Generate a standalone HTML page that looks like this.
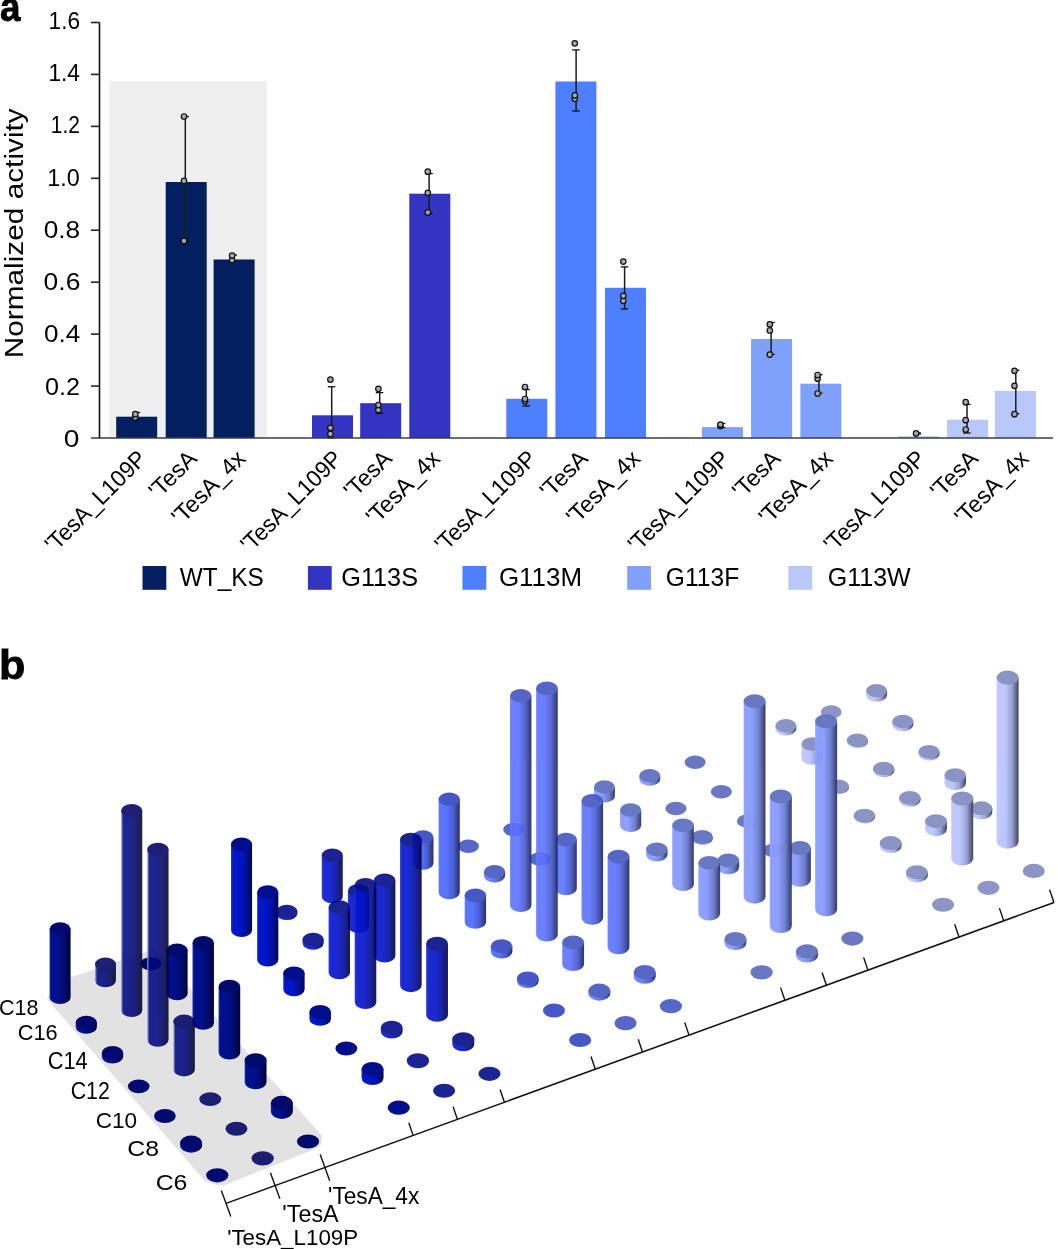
<!DOCTYPE html>
<html><head><meta charset="utf-8"><style>
html,body{margin:0;padding:0;background:#fff;}
svg{display:block;font-family:"Liberation Sans", sans-serif;}
svg{will-change:transform;}
</style></head><body>
<svg width="1058" height="1249" viewBox="0 0 1058 1249">
<defs><linearGradient id="g00" x1="0" x2="1" y1="0" y2="0"><stop offset="0" stop-color="#1a2898"/><stop offset="0.1" stop-color="#00108e"/><stop offset="0.38" stop-color="#00108e"/><stop offset="0.7" stop-color="#000b72"/><stop offset="1" stop-color="#000530"/></linearGradient><linearGradient id="g01" x1="0" x2="1" y1="0" y2="0"><stop offset="0" stop-color="#aeb3dc"/><stop offset="0.1" stop-color="#000881"/><stop offset="0.38" stop-color="#000881"/><stop offset="0.7" stop-color="#000466"/><stop offset="1" stop-color="#000026"/></linearGradient><linearGradient id="g02" x1="0" x2="1" y1="0" y2="0"><stop offset="0" stop-color="#1a2898"/><stop offset="0.1" stop-color="#00108c"/><stop offset="0.38" stop-color="#00108c"/><stop offset="0.7" stop-color="#000b72"/><stop offset="1" stop-color="#000530"/></linearGradient><linearGradient id="g10" x1="0" x2="1" y1="0" y2="0"><stop offset="0" stop-color="#2030d0"/><stop offset="0.1" stop-color="#0016c8"/><stop offset="0.38" stop-color="#0016c8"/><stop offset="0.7" stop-color="#0010a0"/><stop offset="1" stop-color="#000850"/></linearGradient><linearGradient id="g11" x1="0" x2="1" y1="0" y2="0"><stop offset="0" stop-color="#192bd4"/><stop offset="0.1" stop-color="#0312cf"/><stop offset="0.38" stop-color="#0312cf"/><stop offset="0.7" stop-color="#010c9e"/><stop offset="1" stop-color="#00003d"/></linearGradient><linearGradient id="g12" x1="0" x2="1" y1="0" y2="0"><stop offset="0" stop-color="#192bd4"/><stop offset="0.1" stop-color="#0312cf"/><stop offset="0.38" stop-color="#0312cf"/><stop offset="0.7" stop-color="#010c9e"/><stop offset="1" stop-color="#00003d"/></linearGradient><linearGradient id="g20" x1="0" x2="1" y1="0" y2="0"><stop offset="0" stop-color="#5972f7"/><stop offset="0.1" stop-color="#4865ff"/><stop offset="0.38" stop-color="#4865ff"/><stop offset="0.7" stop-color="#364ccb"/><stop offset="1" stop-color="#101960"/></linearGradient><linearGradient id="g21" x1="0" x2="1" y1="0" y2="0"><stop offset="0" stop-color="#607bf7"/><stop offset="0.1" stop-color="#5b72ff"/><stop offset="0.38" stop-color="#5b72ff"/><stop offset="0.7" stop-color="#4557cb"/><stop offset="1" stop-color="#172260"/></linearGradient><linearGradient id="g22" x1="0" x2="1" y1="0" y2="0"><stop offset="0" stop-color="#607bf7"/><stop offset="0.1" stop-color="#5b72ff"/><stop offset="0.38" stop-color="#5b72ff"/><stop offset="0.7" stop-color="#4557cb"/><stop offset="1" stop-color="#172260"/></linearGradient><linearGradient id="g30" x1="0" x2="1" y1="0" y2="0"><stop offset="0" stop-color="#95a5f8"/><stop offset="0.1" stop-color="#8b9dff"/><stop offset="0.38" stop-color="#8b9dff"/><stop offset="0.7" stop-color="#6c7ccf"/><stop offset="1" stop-color="#2e3665"/></linearGradient><linearGradient id="g31" x1="0" x2="1" y1="0" y2="0"><stop offset="0" stop-color="#95a5f8"/><stop offset="0.1" stop-color="#8b9dff"/><stop offset="0.38" stop-color="#8b9dff"/><stop offset="0.7" stop-color="#6c7ccf"/><stop offset="1" stop-color="#2e3665"/></linearGradient><linearGradient id="g32" x1="0" x2="1" y1="0" y2="0"><stop offset="0" stop-color="#95a5f8"/><stop offset="0.1" stop-color="#8b9dff"/><stop offset="0.38" stop-color="#8b9dff"/><stop offset="0.7" stop-color="#6c7ccf"/><stop offset="1" stop-color="#2e3665"/></linearGradient><linearGradient id="g40" x1="0" x2="1" y1="0" y2="0"><stop offset="0" stop-color="#c6ccf0"/><stop offset="0.1" stop-color="#bec6ff"/><stop offset="0.38" stop-color="#bec6ff"/><stop offset="0.7" stop-color="#979fd7"/><stop offset="1" stop-color="#3a405b"/></linearGradient><linearGradient id="g41" x1="0" x2="1" y1="0" y2="0"><stop offset="0" stop-color="#c6ccf0"/><stop offset="0.1" stop-color="#bec6ff"/><stop offset="0.38" stop-color="#bec6ff"/><stop offset="0.7" stop-color="#979fd7"/><stop offset="1" stop-color="#3a405b"/></linearGradient><linearGradient id="g42" x1="0" x2="1" y1="0" y2="0"><stop offset="0" stop-color="#c6ccf0"/><stop offset="0.1" stop-color="#bec6ff"/><stop offset="0.38" stop-color="#bec6ff"/><stop offset="0.7" stop-color="#979fd7"/><stop offset="1" stop-color="#3a405b"/></linearGradient></defs>
<rect width="1058" height="1249" fill="#fff"/>
<rect x="109.4" y="80.8" width="157.6" height="357.2" fill="#efefef"/>
<rect x="116.2" y="416.7" width="41.0" height="21.3" fill="#031f5f"/>
<rect x="165.7" y="182.0" width="41.0" height="256.0" fill="#031f5f"/>
<rect x="213.6" y="259.5" width="41.0" height="178.5" fill="#031f5f"/>
<rect x="312.0" y="415.3" width="41.0" height="22.7" fill="#3434c2"/>
<rect x="360.2" y="403.2" width="41.0" height="34.8" fill="#3434c2"/>
<rect x="409.3" y="193.7" width="41.0" height="244.3" fill="#3434c2"/>
<rect x="506.3" y="398.8" width="41.0" height="39.2" fill="#4d7fff"/>
<rect x="555.4" y="81.5" width="41.0" height="356.5" fill="#4d7fff"/>
<rect x="605.0" y="287.8" width="41.0" height="150.2" fill="#4d7fff"/>
<rect x="702.0" y="427.1" width="41.0" height="10.9" fill="#7fa1fc"/>
<rect x="751.1" y="339.0" width="41.0" height="99.0" fill="#7fa1fc"/>
<rect x="800.4" y="383.7" width="41.0" height="54.3" fill="#7fa1fc"/>
<rect x="898.0" y="436.2" width="41.0" height="1.8" fill="#b9c8fb"/>
<rect x="947.1" y="419.7" width="41.0" height="18.3" fill="#b9c8fb"/>
<rect x="994.9" y="391.0" width="41.0" height="47.0" fill="#b9c8fb"/>
<line x1="136.6" y1="412.5" x2="136.6" y2="419.5" stroke="#1c1c1c" stroke-width="1.5"/>
<line x1="132.7" y1="412.5" x2="140.2" y2="412.5" stroke="#111" stroke-width="1.3"/>
<line x1="132.7" y1="419.5" x2="140.2" y2="419.5" stroke="#111" stroke-width="1.3"/>
<circle cx="135.3" cy="417.6" r="2.75" fill="#a8a8a8" stroke="#111" stroke-width="1.2"/>
<circle cx="135.3" cy="414.2" r="2.75" fill="#a8a8a8" stroke="#111" stroke-width="1.2"/>
<line x1="185.3" y1="116.5" x2="185.3" y2="240.9" stroke="#1c1c1c" stroke-width="1.5"/>
<line x1="181.4" y1="116.5" x2="188.9" y2="116.5" stroke="#111" stroke-width="1.3"/>
<line x1="181.4" y1="240.9" x2="188.9" y2="240.9" stroke="#111" stroke-width="1.3"/>
<circle cx="184.0" cy="240.9" r="2.75" fill="#a8a8a8" stroke="#111" stroke-width="1.2"/>
<circle cx="184.0" cy="180.9" r="2.75" fill="#a8a8a8" stroke="#111" stroke-width="1.2"/>
<circle cx="184.0" cy="116.5" r="2.75" fill="#a8a8a8" stroke="#111" stroke-width="1.2"/>
<line x1="233.4" y1="255.0" x2="233.4" y2="261.0" stroke="#1c1c1c" stroke-width="1.5"/>
<line x1="229.5" y1="255.0" x2="237.0" y2="255.0" stroke="#111" stroke-width="1.3"/>
<line x1="229.5" y1="261.0" x2="237.0" y2="261.0" stroke="#111" stroke-width="1.3"/>
<circle cx="232.1" cy="260.1" r="2.75" fill="#a8a8a8" stroke="#111" stroke-width="1.2"/>
<circle cx="232.1" cy="255.6" r="2.75" fill="#a8a8a8" stroke="#111" stroke-width="1.2"/>
<line x1="331.7" y1="386.7" x2="331.7" y2="438.0" stroke="#1c1c1c" stroke-width="1.5"/>
<line x1="327.8" y1="386.7" x2="335.3" y2="386.7" stroke="#111" stroke-width="1.3"/>
<line x1="327.8" y1="438.0" x2="335.3" y2="438.0" stroke="#111" stroke-width="1.3"/>
<circle cx="330.4" cy="434.0" r="2.75" fill="#a8a8a8" stroke="#111" stroke-width="1.2"/>
<circle cx="330.4" cy="427.8" r="2.75" fill="#a8a8a8" stroke="#111" stroke-width="1.2"/>
<circle cx="330.4" cy="379.6" r="2.75" fill="#a8a8a8" stroke="#111" stroke-width="1.2"/>
<line x1="379.7" y1="392.6" x2="379.7" y2="413.4" stroke="#1c1c1c" stroke-width="1.5"/>
<line x1="375.8" y1="392.6" x2="383.3" y2="392.6" stroke="#111" stroke-width="1.3"/>
<line x1="375.8" y1="413.4" x2="383.3" y2="413.4" stroke="#111" stroke-width="1.3"/>
<circle cx="378.4" cy="409.9" r="2.75" fill="#a8a8a8" stroke="#111" stroke-width="1.2"/>
<circle cx="378.4" cy="405.1" r="2.75" fill="#a8a8a8" stroke="#111" stroke-width="1.2"/>
<circle cx="378.4" cy="388.8" r="2.75" fill="#a8a8a8" stroke="#111" stroke-width="1.2"/>
<line x1="429.1" y1="173.6" x2="429.1" y2="213.3" stroke="#1c1c1c" stroke-width="1.5"/>
<line x1="425.2" y1="173.6" x2="432.7" y2="173.6" stroke="#111" stroke-width="1.3"/>
<line x1="425.2" y1="213.3" x2="432.7" y2="213.3" stroke="#111" stroke-width="1.3"/>
<circle cx="427.8" cy="212.4" r="2.75" fill="#a8a8a8" stroke="#111" stroke-width="1.2"/>
<circle cx="427.8" cy="192.8" r="2.75" fill="#a8a8a8" stroke="#111" stroke-width="1.2"/>
<circle cx="427.8" cy="171.7" r="2.75" fill="#a8a8a8" stroke="#111" stroke-width="1.2"/>
<line x1="526.3" y1="389.5" x2="526.3" y2="406.0" stroke="#1c1c1c" stroke-width="1.5"/>
<line x1="522.4" y1="389.5" x2="529.9" y2="389.5" stroke="#111" stroke-width="1.3"/>
<line x1="522.4" y1="406.0" x2="529.9" y2="406.0" stroke="#111" stroke-width="1.3"/>
<circle cx="525.0" cy="401.0" r="2.75" fill="#a8a8a8" stroke="#111" stroke-width="1.2"/>
<circle cx="525.0" cy="399.0" r="2.75" fill="#a8a8a8" stroke="#111" stroke-width="1.2"/>
<circle cx="525.0" cy="387.0" r="2.75" fill="#a8a8a8" stroke="#111" stroke-width="1.2"/>
<line x1="576.1" y1="49.9" x2="576.1" y2="111.0" stroke="#1c1c1c" stroke-width="1.5"/>
<line x1="572.2" y1="49.9" x2="579.7" y2="49.9" stroke="#111" stroke-width="1.3"/>
<line x1="572.2" y1="111.0" x2="579.7" y2="111.0" stroke="#111" stroke-width="1.3"/>
<circle cx="574.8" cy="98.8" r="2.75" fill="#a8a8a8" stroke="#111" stroke-width="1.2"/>
<circle cx="574.8" cy="95.4" r="2.75" fill="#a8a8a8" stroke="#111" stroke-width="1.2"/>
<circle cx="574.8" cy="43.3" r="2.75" fill="#a8a8a8" stroke="#111" stroke-width="1.2"/>
<line x1="624.6" y1="266.9" x2="624.6" y2="309.0" stroke="#1c1c1c" stroke-width="1.5"/>
<line x1="620.7" y1="266.9" x2="628.2" y2="266.9" stroke="#111" stroke-width="1.3"/>
<line x1="620.7" y1="309.0" x2="628.2" y2="309.0" stroke="#111" stroke-width="1.3"/>
<circle cx="623.3" cy="300.8" r="2.75" fill="#a8a8a8" stroke="#111" stroke-width="1.2"/>
<circle cx="623.3" cy="295.8" r="2.75" fill="#a8a8a8" stroke="#111" stroke-width="1.2"/>
<circle cx="623.3" cy="261.6" r="2.75" fill="#a8a8a8" stroke="#111" stroke-width="1.2"/>
<line x1="721.7" y1="423.5" x2="721.7" y2="427.5" stroke="#1c1c1c" stroke-width="1.5"/>
<line x1="717.8" y1="423.5" x2="725.3" y2="423.5" stroke="#111" stroke-width="1.3"/>
<line x1="717.8" y1="427.5" x2="725.3" y2="427.5" stroke="#111" stroke-width="1.3"/>
<circle cx="720.4" cy="426.1" r="2.75" fill="#a8a8a8" stroke="#111" stroke-width="1.2"/>
<circle cx="720.4" cy="424.6" r="2.75" fill="#a8a8a8" stroke="#111" stroke-width="1.2"/>
<line x1="771.1" y1="322.5" x2="771.1" y2="354.3" stroke="#1c1c1c" stroke-width="1.5"/>
<line x1="767.2" y1="322.5" x2="774.7" y2="322.5" stroke="#111" stroke-width="1.3"/>
<line x1="767.2" y1="354.3" x2="774.7" y2="354.3" stroke="#111" stroke-width="1.3"/>
<circle cx="769.8" cy="354.6" r="2.75" fill="#a8a8a8" stroke="#111" stroke-width="1.2"/>
<circle cx="769.8" cy="330.5" r="2.75" fill="#a8a8a8" stroke="#111" stroke-width="1.2"/>
<circle cx="769.8" cy="324.4" r="2.75" fill="#a8a8a8" stroke="#111" stroke-width="1.2"/>
<line x1="818.9" y1="374.7" x2="818.9" y2="393.2" stroke="#1c1c1c" stroke-width="1.5"/>
<line x1="815.0" y1="374.7" x2="822.5" y2="374.7" stroke="#111" stroke-width="1.3"/>
<line x1="815.0" y1="393.2" x2="822.5" y2="393.2" stroke="#111" stroke-width="1.3"/>
<circle cx="817.6" cy="393.5" r="2.75" fill="#a8a8a8" stroke="#111" stroke-width="1.2"/>
<circle cx="817.6" cy="378.7" r="2.75" fill="#a8a8a8" stroke="#111" stroke-width="1.2"/>
<circle cx="817.6" cy="375.0" r="2.75" fill="#a8a8a8" stroke="#111" stroke-width="1.2"/>
<line x1="917.4" y1="433.0" x2="917.4" y2="434.0" stroke="#1c1c1c" stroke-width="1.5"/>
<line x1="913.5" y1="433.0" x2="921.0" y2="433.0" stroke="#111" stroke-width="1.3"/>
<line x1="913.5" y1="434.0" x2="921.0" y2="434.0" stroke="#111" stroke-width="1.3"/>
<circle cx="916.1" cy="433.4" r="2.75" fill="#a8a8a8" stroke="#111" stroke-width="1.2"/>
<line x1="967.0" y1="404.4" x2="967.0" y2="433.0" stroke="#1c1c1c" stroke-width="1.5"/>
<line x1="963.1" y1="404.4" x2="970.6" y2="404.4" stroke="#111" stroke-width="1.3"/>
<line x1="963.1" y1="433.0" x2="970.6" y2="433.0" stroke="#111" stroke-width="1.3"/>
<circle cx="965.7" cy="429.5" r="2.75" fill="#a8a8a8" stroke="#111" stroke-width="1.2"/>
<circle cx="965.7" cy="420.2" r="2.75" fill="#a8a8a8" stroke="#111" stroke-width="1.2"/>
<circle cx="965.7" cy="402.2" r="2.75" fill="#a8a8a8" stroke="#111" stroke-width="1.2"/>
<line x1="1015.8" y1="370.3" x2="1015.8" y2="413.7" stroke="#1c1c1c" stroke-width="1.5"/>
<line x1="1011.9" y1="370.3" x2="1019.4" y2="370.3" stroke="#111" stroke-width="1.3"/>
<line x1="1011.9" y1="413.7" x2="1019.4" y2="413.7" stroke="#111" stroke-width="1.3"/>
<circle cx="1014.5" cy="414.2" r="2.75" fill="#a8a8a8" stroke="#111" stroke-width="1.2"/>
<circle cx="1014.5" cy="385.8" r="2.75" fill="#a8a8a8" stroke="#111" stroke-width="1.2"/>
<circle cx="1014.5" cy="370.8" r="2.75" fill="#a8a8a8" stroke="#111" stroke-width="1.2"/>
<line x1="91" y1="438.0" x2="1053" y2="438.0" stroke="#3c3c3c" stroke-width="1.5"/>
<line x1="99.5" y1="22.5" x2="99.5" y2="438.0" stroke="#111" stroke-width="1.6"/>
<line x1="91" y1="386.1" x2="99.5" y2="386.1" stroke="#222" stroke-width="1.6"/>
<line x1="91" y1="334.1" x2="99.5" y2="334.1" stroke="#222" stroke-width="1.6"/>
<line x1="91" y1="282.2" x2="99.5" y2="282.2" stroke="#222" stroke-width="1.6"/>
<line x1="91" y1="230.2" x2="99.5" y2="230.2" stroke="#222" stroke-width="1.6"/>
<line x1="91" y1="178.3" x2="99.5" y2="178.3" stroke="#222" stroke-width="1.6"/>
<line x1="91" y1="126.4" x2="99.5" y2="126.4" stroke="#222" stroke-width="1.6"/>
<line x1="91" y1="74.4" x2="99.5" y2="74.4" stroke="#222" stroke-width="1.6"/>
<line x1="91" y1="22.5" x2="99.5" y2="22.5" stroke="#222" stroke-width="1.6"/>
<text x="48.59" y="28.80" font-size="23.43" textLength="31.42" lengthAdjust="spacingAndGlyphs">1.6</text>
<text x="48.39" y="81.07" font-size="23.77" textLength="31.50" lengthAdjust="spacingAndGlyphs">1.4</text>
<text x="50.82" y="133.34" font-size="23.43" textLength="29.13" lengthAdjust="spacingAndGlyphs">1.2</text>
<text x="47.13" y="185.61" font-size="23.43" textLength="32.51" lengthAdjust="spacingAndGlyphs">1.0</text>
<text x="43.65" y="237.88" font-size="23.43" textLength="36.40" lengthAdjust="spacingAndGlyphs">0.8</text>
<text x="43.64" y="290.15" font-size="23.43" textLength="36.72" lengthAdjust="spacingAndGlyphs">0.6</text>
<text x="43.96" y="342.42" font-size="23.43" textLength="36.23" lengthAdjust="spacingAndGlyphs">0.4</text>
<text x="44.99" y="394.69" font-size="23.43" textLength="35.02" lengthAdjust="spacingAndGlyphs">0.2</text>
<text x="63.67" y="446.96" font-size="23.43" textLength="15.64" lengthAdjust="spacingAndGlyphs">0</text>
<g transform="rotate(-90)"><text x="-358.38" y="23.00" font-size="26.30" textLength="250.12" lengthAdjust="spacingAndGlyphs">Normalized activity</text></g>
<text x="-0.00" y="20.90" font-size="40.28" textLength="20.47" lengthAdjust="spacingAndGlyphs" font-weight="bold" stroke="#000" stroke-width="0.8">a</text>
<text transform="translate(148.0,460) rotate(-45)" font-size="23.4" textLength="132.37" lengthAdjust="spacingAndGlyphs" text-anchor="end">&#39;TesA_L109P</text>
<text transform="translate(198.2,460) rotate(-45)" font-size="23.4" textLength="56.49" lengthAdjust="spacingAndGlyphs" text-anchor="end">&#39;TesA</text>
<text transform="translate(247.0,460) rotate(-45)" font-size="23.4" textLength="93.28" lengthAdjust="spacingAndGlyphs" text-anchor="end">&#39;TesA_4x</text>
<text transform="translate(343.7,460) rotate(-45)" font-size="23.4" textLength="132.37" lengthAdjust="spacingAndGlyphs" text-anchor="end">&#39;TesA_L109P</text>
<text transform="translate(393.3,460) rotate(-45)" font-size="23.4" textLength="56.49" lengthAdjust="spacingAndGlyphs" text-anchor="end">&#39;TesA</text>
<text transform="translate(441.5,460) rotate(-45)" font-size="23.4" textLength="93.28" lengthAdjust="spacingAndGlyphs" text-anchor="end">&#39;TesA_4x</text>
<text transform="translate(537.8,460) rotate(-45)" font-size="23.4" textLength="132.37" lengthAdjust="spacingAndGlyphs" text-anchor="end">&#39;TesA_L109P</text>
<text transform="translate(589.4,460) rotate(-45)" font-size="23.4" textLength="56.49" lengthAdjust="spacingAndGlyphs" text-anchor="end">&#39;TesA</text>
<text transform="translate(641.6,460) rotate(-45)" font-size="23.4" textLength="93.28" lengthAdjust="spacingAndGlyphs" text-anchor="end">&#39;TesA_4x</text>
<text transform="translate(731.0,460) rotate(-45)" font-size="23.4" textLength="132.37" lengthAdjust="spacingAndGlyphs" text-anchor="end">&#39;TesA_L109P</text>
<text transform="translate(781.8,460) rotate(-45)" font-size="23.4" textLength="56.49" lengthAdjust="spacingAndGlyphs" text-anchor="end">&#39;TesA</text>
<text transform="translate(834.1,460) rotate(-45)" font-size="23.4" textLength="93.28" lengthAdjust="spacingAndGlyphs" text-anchor="end">&#39;TesA_4x</text>
<text transform="translate(926.8,460) rotate(-45)" font-size="23.4" textLength="132.37" lengthAdjust="spacingAndGlyphs" text-anchor="end">&#39;TesA_L109P</text>
<text transform="translate(979.6,460) rotate(-45)" font-size="23.4" textLength="56.49" lengthAdjust="spacingAndGlyphs" text-anchor="end">&#39;TesA</text>
<text transform="translate(1029.9,460) rotate(-45)" font-size="23.4" textLength="93.28" lengthAdjust="spacingAndGlyphs" text-anchor="end">&#39;TesA_4x</text>
<rect x="142.5" y="566" width="23.8" height="23.8" fill="#031f5f"/>
<text x="179.86" y="585.60" font-size="26.14" textLength="83.94" lengthAdjust="spacingAndGlyphs">WT_KS</text>
<rect x="307.9" y="566" width="23.8" height="23.8" fill="#3434c2"/>
<text x="341.24" y="585.60" font-size="26.14" textLength="76.80" lengthAdjust="spacingAndGlyphs">G113S</text>
<rect x="462.5" y="566" width="23.8" height="23.8" fill="#4d7fff"/>
<text x="498.90" y="585.60" font-size="26.14" textLength="83.10" lengthAdjust="spacingAndGlyphs">G113M</text>
<rect x="627.2" y="566" width="23.8" height="23.8" fill="#7fa1fc"/>
<text x="665.87" y="585.60" font-size="26.14" textLength="73.39" lengthAdjust="spacingAndGlyphs">G113F</text>
<rect x="788.4" y="566" width="23.8" height="23.8" fill="#b9c8fb"/>
<text x="827.75" y="585.60" font-size="26.14" textLength="83.00" lengthAdjust="spacingAndGlyphs">G113W</text>
<polygon points="47,999.1 205.3,1181.5 212,1183.5 217,1185 223,1185.7 315,1149 319.1,1147.1 321.5,1143 322,1135.7 154.4,948.9 70.2,977.4 52,990" fill="#e2e2e2"/>
<g opacity="0.97"><path d="M866.08,690.62 L866.08,695.12 A10.50,6.68 0 0 0 887.08,695.12 L887.08,690.62 Z" fill="url(#g42)"/><ellipse cx="876.58" cy="690.62" rx="10.50" ry="6.68" fill="#8892c2"/></g>
<g opacity="0.97"><ellipse cx="831.22" cy="711.91" rx="10.50" ry="6.68" fill="#8892c2"/></g>
<g opacity="0.97"><path d="M892.18,721.42 L892.18,724.42 A10.60,6.75 0 0 0 913.38,724.42 L913.38,721.42 Z" fill="url(#g42)"/><ellipse cx="902.78" cy="721.42" rx="10.60" ry="6.75" fill="#8892c2"/></g>
<g opacity="0.97"><path d="M775.36,725.71 L775.36,728.71 A10.50,6.68 0 0 0 796.36,728.71 L796.36,725.71 Z" fill="url(#g40)"/><ellipse cx="785.86" cy="725.71" rx="10.50" ry="6.68" fill="#8892c2"/></g>
<g opacity="0.97"><path d="M846.82,740.23 L846.82,741.23 A10.60,6.75 0 0 0 868.02,741.23 L868.02,740.23 Z" fill="url(#g41)"/><ellipse cx="857.42" cy="740.23" rx="10.60" ry="6.75" fill="#8892c2"/></g>
<g opacity="0.97"><path d="M918.28,751.72 L918.28,753.72 A10.70,6.82 0 0 0 939.68,753.72 L939.68,751.72 Z" fill="url(#g42)"/><ellipse cx="928.98" cy="751.72" rx="10.70" ry="6.82" fill="#8892c2"/></g>
<g opacity="0.97"><path d="M801.46,744.05 L801.46,758.05 A10.60,6.75 0 0 0 822.66,758.05 L822.66,744.05 Z" fill="url(#g40)"/><ellipse cx="812.06" cy="744.05" rx="10.60" ry="6.75" fill="#8892c2"/></g>
<g opacity="0.97"><ellipse cx="695.14" cy="762.29" rx="10.50" ry="6.68" fill="#6574c2"/></g>
<g opacity="0.97"><path d="M872.92,768.55 L872.92,770.55 A10.70,6.82 0 0 0 894.32,770.55 L894.32,768.55 Z" fill="url(#g41)"/><ellipse cx="883.62" cy="768.55" rx="10.70" ry="6.82" fill="#8892c2"/></g>
<g opacity="0.97"><path d="M639.28,775.69 L639.28,779.09 A10.50,6.68 0 0 0 660.28,779.09 L660.28,775.69 Z" fill="url(#g31)"/><ellipse cx="649.78" cy="775.69" rx="10.50" ry="6.68" fill="#6574c2"/></g>
<g opacity="0.97"><path d="M944.38,775.02 L944.38,783.02 A10.80,6.89 0 0 0 965.98,783.02 L965.98,775.02 Z" fill="url(#g42)"/><ellipse cx="955.18" cy="775.02" rx="10.80" ry="6.89" fill="#8892c2"/></g>
<g opacity="0.97"><path d="M827.56,786.38 L827.56,787.38 A10.70,6.82 0 0 0 848.96,787.38 L848.96,786.38 Z" fill="url(#g40)"/><ellipse cx="838.26" cy="786.38" rx="10.70" ry="6.82" fill="#8892c2"/></g>
<g opacity="0.97"><ellipse cx="721.34" cy="791.67" rx="10.60" ry="6.75" fill="#6574c2"/></g>
<g opacity="0.97"><path d="M593.92,786.88 L593.92,795.88 A10.50,6.68 0 0 0 614.92,795.88 L614.92,786.88 Z" fill="url(#g30)"/><ellipse cx="604.42" cy="786.88" rx="10.50" ry="6.68" fill="#6574c2"/></g>
<g opacity="0.97"><path d="M899.02,797.87 L899.02,799.87 A10.80,6.89 0 0 0 920.62,799.87 L920.62,797.87 Z" fill="url(#g41)"/><ellipse cx="909.82" cy="797.87" rx="10.80" ry="6.89" fill="#8892c2"/></g>
<g opacity="0.97"><ellipse cx="675.98" cy="808.48" rx="10.60" ry="6.75" fill="#6574c2"/></g>
<g opacity="0.97"><path d="M970.48,808.32 L970.48,812.32 A10.90,6.96 0 0 0 992.28,812.32 L992.28,808.32 Z" fill="url(#g42)"/><ellipse cx="981.38" cy="808.32" rx="10.90" ry="6.96" fill="#8892c2"/></g>
<g opacity="0.97"><path d="M853.66,815.72 L853.66,816.72 A10.80,6.89 0 0 0 875.26,816.72 L875.26,815.72 Z" fill="url(#g40)"/><ellipse cx="864.46" cy="815.72" rx="10.80" ry="6.89" fill="#8892c2"/></g>
<g opacity="0.97"><ellipse cx="747.54" cy="821.05" rx="10.70" ry="6.82" fill="#6574c2"/></g>
<g opacity="0.97"><path d="M620.02,810.10 L620.02,825.30 A10.60,6.75 0 0 0 641.22,825.30 L641.22,810.10 Z" fill="url(#g30)"/><ellipse cx="630.62" cy="810.10" rx="10.60" ry="6.75" fill="#6574c2"/></g>
<g opacity="0.97"><path d="M925.12,821.19 L925.12,829.19 A10.90,6.96 0 0 0 946.92,829.19 L946.92,821.19 Z" fill="url(#g41)"/><ellipse cx="936.02" cy="821.19" rx="10.90" ry="6.96" fill="#8892c2"/></g>
<g opacity="0.9"><ellipse cx="513.70" cy="829.47" rx="10.50" ry="6.68" fill="#4456c2"/></g>
<g opacity="0.97"><path d="M691.48,836.88 L691.48,837.88 A10.70,6.82 0 0 0 712.88,837.88 L712.88,836.88 Z" fill="url(#g31)"/><ellipse cx="702.18" cy="836.88" rx="10.70" ry="6.82" fill="#6574c2"/></g>
<g opacity="0.97"><path d="M996.58,677.62 L996.58,841.62 A11.00,7.03 0 0 0 1018.58,841.62 L1018.58,677.62 Z" fill="url(#g42)"/><ellipse cx="1007.58" cy="677.62" rx="11.00" ry="7.03" fill="#8892c2"/></g>
<g opacity="0.97"><path d="M879.76,843.06 L879.76,846.06 A10.90,6.96 0 0 0 901.56,846.06 L901.56,843.06 Z" fill="url(#g40)"/><ellipse cx="890.66" cy="843.06" rx="10.90" ry="6.96" fill="#8892c2"/></g>
<g opacity="0.9"><ellipse cx="468.34" cy="846.26" rx="10.50" ry="6.68" fill="#4456c2"/></g>
<g opacity="0.97"><ellipse cx="773.74" cy="850.43" rx="10.80" ry="6.89" fill="#6574c2"/></g>
<g opacity="0.97"><path d="M646.12,849.31 L646.12,854.71 A10.70,6.82 0 0 0 667.52,854.71 L667.52,849.31 Z" fill="url(#g30)"/><ellipse cx="656.82" cy="849.31" rx="10.70" ry="6.82" fill="#6574c2"/></g>
<g opacity="0.97"><path d="M951.22,798.51 L951.22,858.51 A11.00,7.03 0 0 0 973.22,858.51 L973.22,798.51 Z" fill="url(#g41)"/><ellipse cx="962.22" cy="798.51" rx="11.00" ry="7.03" fill="#8892c2"/></g>
<g opacity="0.9"><ellipse cx="539.90" cy="858.92" rx="10.60" ry="6.75" fill="#4456c2"/></g>
<g opacity="0.9"><path d="M412.48,837.05 L412.48,863.05 A10.50,6.68 0 0 0 433.48,863.05 L433.48,837.05 Z" fill="url(#g20)"/><ellipse cx="422.98" cy="837.05" rx="10.50" ry="6.68" fill="#3445c2"/></g>
<g opacity="0.97"><path d="M717.58,860.38 L717.58,867.28 A10.80,6.89 0 0 0 739.18,867.28 L739.18,860.38 Z" fill="url(#g31)"/><ellipse cx="728.38" cy="860.38" rx="10.80" ry="6.89" fill="#6574c2"/></g>
<g opacity="0.97"><ellipse cx="1033.78" cy="870.92" rx="11.10" ry="7.10" fill="#8892c2"/></g>
<g opacity="0.97"><path d="M905.86,872.40 L905.86,875.40 A11.00,7.03 0 0 0 927.86,875.40 L927.86,872.40 Z" fill="url(#g40)"/><ellipse cx="916.86" cy="872.40" rx="11.00" ry="7.03" fill="#8892c2"/></g>
<g opacity="0.9"><path d="M483.94,871.73 L483.94,875.73 A10.60,6.75 0 0 0 505.14,875.73 L505.14,871.73 Z" fill="url(#g21)"/><ellipse cx="494.54" cy="871.73" rx="10.60" ry="6.75" fill="#4456c2"/></g>
<g opacity="0.97"><path d="M789.04,848.00 L789.04,879.80 A10.90,6.96 0 0 0 810.84,879.80 L810.84,848.00 Z" fill="url(#g32)"/><ellipse cx="799.94" cy="848.00" rx="10.90" ry="6.96" fill="#6574c2"/></g>
<g opacity="0.97"><path d="M672.22,825.33 L672.22,884.13 A10.80,6.89 0 0 0 693.82,884.13 L693.82,825.33 Z" fill="url(#g30)"/><ellipse cx="683.02" cy="825.33" rx="10.80" ry="6.89" fill="#6574c2"/></g>
<g opacity="0.97"><ellipse cx="988.42" cy="887.83" rx="11.10" ry="7.10" fill="#8892c2"/></g>
<g opacity="0.9"><path d="M555.40,839.58 L555.40,888.38 A10.70,6.82 0 0 0 576.80,888.38 L576.80,839.58 Z" fill="url(#g22)"/><ellipse cx="566.10" cy="839.58" rx="10.70" ry="6.82" fill="#4456c2"/></g>
<g opacity="0.9"><path d="M438.58,799.15 L438.58,892.55 A10.60,6.75 0 0 0 459.78,892.55 L459.78,799.15 Z" fill="url(#g20)"/><ellipse cx="449.18" cy="799.15" rx="10.60" ry="6.75" fill="#3445c2"/></g>
<g opacity="0.9"><path d="M321.76,855.14 L321.76,896.64 A10.50,6.68 0 0 0 342.76,896.64 L342.76,855.14 Z" fill="url(#g12)"/><ellipse cx="332.26" cy="855.14" rx="10.50" ry="6.68" fill="#030c88"/></g>
<g opacity="0.97"><path d="M743.68,701.18 L743.68,896.68 A10.90,6.96 0 0 0 765.48,896.68 L765.48,701.18 Z" fill="url(#g31)"/><ellipse cx="754.58" cy="701.18" rx="10.90" ry="6.96" fill="#6574c2"/></g>
<g opacity="0.97"><ellipse cx="943.06" cy="904.74" rx="11.10" ry="7.10" fill="#8892c2"/></g>
<g opacity="0.9"><path d="M510.04,695.71 L510.04,905.21 A10.70,6.82 0 0 0 531.44,905.21 L531.44,695.71 Z" fill="url(#g21)"/><ellipse cx="520.74" cy="695.71" rx="10.70" ry="6.82" fill="#4456c2"/></g>
<g opacity="0.97"><path d="M815.14,721.28 L815.14,909.18 A11.00,7.03 0 0 0 837.14,909.18 L837.14,721.28 Z" fill="url(#g32)"/><ellipse cx="826.14" cy="721.28" rx="11.00" ry="7.03" fill="#6574c2"/></g>
<g opacity="0.9"><path d="M276.40,911.43 L276.40,913.43 A10.50,6.68 0 0 0 297.40,913.43 L297.40,911.43 Z" fill="url(#g11)"/><ellipse cx="286.90" cy="911.43" rx="10.50" ry="6.68" fill="#030c88"/></g>
<g opacity="0.97"><path d="M698.32,862.85 L698.32,913.55 A10.90,6.96 0 0 0 720.12,913.55 L720.12,862.85 Z" fill="url(#g30)"/><ellipse cx="709.22" cy="862.85" rx="10.90" ry="6.96" fill="#6574c2"/></g>
<g opacity="0.9"><path d="M581.50,800.93 L581.50,917.83 A10.80,6.89 0 0 0 603.10,917.83 L603.10,800.93 Z" fill="url(#g22)"/><ellipse cx="592.30" cy="800.93" rx="10.80" ry="6.89" fill="#4456c2"/></g>
<g opacity="0.9"><path d="M464.68,895.34 L464.68,922.04 A10.70,6.82 0 0 0 486.08,922.04 L486.08,895.34 Z" fill="url(#g20)"/><ellipse cx="475.38" cy="895.34" rx="10.70" ry="6.82" fill="#3445c2"/></g>
<g opacity="0.97"><path d="M769.78,796.57 L769.78,926.07 A11.00,7.03 0 0 0 791.78,926.07 L791.78,796.57 Z" fill="url(#g31)"/><ellipse cx="780.78" cy="796.57" rx="11.00" ry="7.03" fill="#6574c2"/></g>
<g opacity="0.9"><path d="M347.86,890.67 L347.86,926.17 A10.60,6.75 0 0 0 369.06,926.17 L369.06,890.67 Z" fill="url(#g12)"/><ellipse cx="358.46" cy="890.67" rx="10.60" ry="6.75" fill="#030c88"/></g>
<g opacity="1.0"><path d="M231.04,844.23 L231.04,930.23 A10.50,6.68 0 0 0 252.04,930.23 L252.04,844.23 Z" fill="url(#g10)"/><ellipse cx="241.54" cy="844.23" rx="10.50" ry="6.68" fill="#000e8c"/></g>
<g opacity="0.9"><path d="M536.14,688.38 L536.14,934.68 A10.80,6.89 0 0 0 557.74,934.68 L557.74,688.38 Z" fill="url(#g21)"/><ellipse cx="546.94" cy="688.38" rx="10.80" ry="6.89" fill="#4456c2"/></g>
<g opacity="0.97"><ellipse cx="852.34" cy="938.56" rx="11.10" ry="7.10" fill="#6574c2"/></g>
<g opacity="0.97"><path d="M724.42,938.96 L724.42,942.96 A11.00,7.03 0 0 0 746.42,942.96 L746.42,938.96 Z" fill="url(#g30)"/><ellipse cx="735.42" cy="938.96" rx="11.00" ry="7.03" fill="#6574c2"/></g>
<g opacity="0.9"><path d="M302.50,939.49 L302.50,942.99 A10.60,6.75 0 0 0 323.70,942.99 L323.70,939.49 Z" fill="url(#g11)"/><ellipse cx="313.10" cy="939.49" rx="10.60" ry="6.75" fill="#030c88"/></g>
<g opacity="0.9"><path d="M607.60,856.59 L607.60,947.29 A10.90,6.96 0 0 0 629.40,947.29 L629.40,856.59 Z" fill="url(#g22)"/><ellipse cx="618.50" cy="856.59" rx="10.90" ry="6.96" fill="#4456c2"/></g>
<g opacity="0.9"><path d="M490.78,946.24 L490.78,951.54 A10.80,6.89 0 0 0 512.38,951.54 L512.38,946.24 Z" fill="url(#g20)"/><ellipse cx="501.58" cy="946.24" rx="10.80" ry="6.89" fill="#3445c2"/></g>
<g opacity="0.97"><path d="M795.88,951.47 L795.88,955.47 A11.10,7.10 0 0 0 818.08,955.47 L818.08,951.47 Z" fill="url(#g31)"/><ellipse cx="806.98" cy="951.47" rx="11.10" ry="7.10" fill="#6574c2"/></g>
<g opacity="0.9"><path d="M373.96,880.41 L373.96,955.71 A10.70,6.82 0 0 0 395.36,955.71 L395.36,880.41 Z" fill="url(#g12)"/><ellipse cx="384.66" cy="880.41" rx="10.70" ry="6.82" fill="#030c88"/></g>
<g opacity="1.0"><path d="M257.14,891.90 L257.14,959.80 A10.60,6.75 0 0 0 278.34,959.80 L278.34,891.90 Z" fill="url(#g10)"/><ellipse cx="267.74" cy="891.90" rx="10.60" ry="6.75" fill="#000e8c"/></g>
<g opacity="1.0"><ellipse cx="150.82" cy="963.81" rx="10.50" ry="6.68" fill="#000a6a"/></g>
<g opacity="0.9"><path d="M562.24,942.36 L562.24,964.16 A10.90,6.96 0 0 0 584.04,964.16 L584.04,942.36 Z" fill="url(#g21)"/><ellipse cx="573.14" cy="942.36" rx="10.90" ry="6.96" fill="#4456c2"/></g>
<g opacity="0.97"><ellipse cx="761.62" cy="972.38" rx="11.10" ry="7.10" fill="#6574c2"/></g>
<g opacity="0.9"><path d="M328.60,907.04 L328.60,972.54 A10.70,6.82 0 0 0 350.00,972.54 L350.00,907.04 Z" fill="url(#g11)"/><ellipse cx="339.30" cy="907.04" rx="10.70" ry="6.82" fill="#030c88"/></g>
<g opacity="0.9"><path d="M633.70,972.04 L633.70,976.74 A11.00,7.03 0 0 0 655.70,976.74 L655.70,972.04 Z" fill="url(#g22)"/><ellipse cx="644.70" cy="972.04" rx="11.00" ry="7.03" fill="#4456c2"/></g>
<g opacity="0.88"><path d="M94.96,964.11 L94.96,980.61 A10.50,6.68 0 0 0 115.96,980.61 L115.96,964.11 Z" fill="url(#g01)"/><ellipse cx="105.46" cy="964.11" rx="10.50" ry="6.68" fill="#000262"/></g>
<g opacity="0.9"><path d="M516.88,978.53 L516.88,981.03 A10.90,6.96 0 0 0 538.68,981.03 L538.68,978.53 Z" fill="url(#g20)"/><ellipse cx="527.78" cy="978.53" rx="10.90" ry="6.96" fill="#3445c2"/></g>
<g opacity="0.9"><path d="M400.06,839.54 L400.06,985.24 A10.80,6.89 0 0 0 421.66,985.24 L421.66,839.54 Z" fill="url(#g12)"/><ellipse cx="410.86" cy="839.54" rx="10.80" ry="6.89" fill="#030c88"/></g>
<g opacity="1.0"><path d="M283.24,973.27 L283.24,989.37 A10.70,6.82 0 0 0 304.64,989.37 L304.64,973.27 Z" fill="url(#g10)"/><ellipse cx="293.94" cy="973.27" rx="10.70" ry="6.82" fill="#000e8c"/></g>
<g opacity="1.0"><path d="M166.42,950.22 L166.42,993.42 A10.60,6.75 0 0 0 187.62,993.42 L187.62,950.22 Z" fill="url(#g02)"/><ellipse cx="177.02" cy="950.22" rx="10.60" ry="6.75" fill="#000a6a"/></g>
<g opacity="0.9"><path d="M588.34,990.63 L588.34,993.63 A11.00,7.03 0 0 0 610.34,993.63 L610.34,990.63 Z" fill="url(#g21)"/><ellipse cx="599.34" cy="990.63" rx="11.00" ry="7.03" fill="#4456c2"/></g>
<g opacity="1.0"><path d="M49.60,928.90 L49.60,997.40 A10.50,6.68 0 0 0 70.60,997.40 L70.60,928.90 Z" fill="url(#g00)"/><ellipse cx="60.10" cy="928.90" rx="10.50" ry="6.68" fill="#000a6e"/></g>
<g opacity="0.9"><path d="M354.70,884.79 L354.70,1002.09 A10.80,6.89 0 0 0 376.30,1002.09 L376.30,884.79 Z" fill="url(#g11)"/><ellipse cx="365.50" cy="884.79" rx="10.80" ry="6.89" fill="#030c88"/></g>
<g opacity="0.9"><ellipse cx="670.90" cy="1006.20" rx="11.10" ry="7.10" fill="#4456c2"/></g>
<g opacity="0.88"><path d="M121.06,810.84 L121.06,1010.24 A10.60,6.75 0 0 0 142.26,1010.24 L142.26,810.84 Z" fill="url(#g01)"/><ellipse cx="131.66" cy="810.84" rx="10.60" ry="6.75" fill="#000262"/></g>
<g opacity="0.9"><ellipse cx="553.98" cy="1010.53" rx="11.00" ry="7.03" fill="#3445c2"/></g>
<g opacity="0.9"><path d="M426.16,943.77 L426.16,1014.77 A10.90,6.96 0 0 0 447.96,1014.77 L447.96,943.77 Z" fill="url(#g12)"/><ellipse cx="437.06" cy="943.77" rx="10.90" ry="6.96" fill="#030c88"/></g>
<g opacity="1.0"><path d="M309.34,1011.94 L309.34,1018.94 A10.80,6.89 0 0 0 330.94,1018.94 L330.94,1011.94 Z" fill="url(#g10)"/><ellipse cx="320.14" cy="1011.94" rx="10.80" ry="6.89" fill="#000e8c"/></g>
<g opacity="1.0"><path d="M192.52,942.74 L192.52,1023.04 A10.70,6.82 0 0 0 213.92,1023.04 L213.92,942.74 Z" fill="url(#g02)"/><ellipse cx="203.22" cy="942.74" rx="10.70" ry="6.82" fill="#000a6a"/></g>
<g opacity="0.9"><ellipse cx="625.54" cy="1023.11" rx="11.10" ry="7.10" fill="#4456c2"/></g>
<g opacity="1.0"><path d="M75.70,1022.55 L75.70,1027.05 A10.60,6.75 0 0 0 96.90,1027.05 L96.90,1022.55 Z" fill="url(#g00)"/><ellipse cx="86.30" cy="1022.55" rx="10.60" ry="6.75" fill="#000a6e"/></g>
<g opacity="0.9"><path d="M380.80,1027.64 L380.80,1031.64 A10.90,6.96 0 0 0 402.60,1031.64 L402.60,1027.64 Z" fill="url(#g11)"/><ellipse cx="391.70" cy="1027.64" rx="10.90" ry="6.96" fill="#030c88"/></g>
<g opacity="0.88"><path d="M147.16,849.47 L147.16,1039.87 A10.70,6.82 0 0 0 168.56,1039.87 L168.56,849.47 Z" fill="url(#g01)"/><ellipse cx="157.86" cy="849.47" rx="10.70" ry="6.82" fill="#000262"/></g>
<g opacity="0.9"><ellipse cx="580.18" cy="1040.02" rx="11.10" ry="7.10" fill="#3445c2"/></g>
<g opacity="0.9"><path d="M452.26,1039.31 L452.26,1044.31 A11.00,7.03 0 0 0 474.26,1044.31 L474.26,1039.31 Z" fill="url(#g12)"/><ellipse cx="463.26" cy="1039.31" rx="11.00" ry="7.03" fill="#030c88"/></g>
<g opacity="1.0"><ellipse cx="346.34" cy="1048.52" rx="10.90" ry="6.96" fill="#000e8c"/></g>
<g opacity="1.0"><path d="M218.62,986.65 L218.62,1052.65 A10.80,6.89 0 0 0 240.22,1052.65 L240.22,986.65 Z" fill="url(#g02)"/><ellipse cx="229.42" cy="986.65" rx="10.80" ry="6.89" fill="#000a6a"/></g>
<g opacity="1.0"><path d="M101.80,1052.70 L101.80,1056.70 A10.70,6.82 0 0 0 123.20,1056.70 L123.20,1052.70 Z" fill="url(#g00)"/><ellipse cx="112.50" cy="1052.70" rx="10.70" ry="6.82" fill="#000a6e"/></g>
<g opacity="0.9"><path d="M406.90,1060.20 L406.90,1061.20 A11.00,7.03 0 0 0 428.90,1061.20 L428.90,1060.20 Z" fill="url(#g11)"/><ellipse cx="417.90" cy="1060.20" rx="11.00" ry="7.03" fill="#030c88"/></g>
<g opacity="0.88"><path d="M173.26,1021.50 L173.26,1069.50 A10.80,6.89 0 0 0 194.86,1069.50 L194.86,1021.50 Z" fill="url(#g01)"/><ellipse cx="184.06" cy="1021.50" rx="10.80" ry="6.89" fill="#000262"/></g>
<g opacity="0.9"><ellipse cx="489.46" cy="1073.84" rx="11.10" ry="7.10" fill="#030c88"/></g>
<g opacity="1.0"><path d="M361.54,1069.09 L361.54,1078.09 A11.00,7.03 0 0 0 383.54,1078.09 L383.54,1069.09 Z" fill="url(#g10)"/><ellipse cx="372.54" cy="1069.09" rx="11.00" ry="7.03" fill="#000e8c"/></g>
<g opacity="1.0"><path d="M244.72,1060.26 L244.72,1082.26 A10.90,6.96 0 0 0 266.52,1082.26 L266.52,1060.26 Z" fill="url(#g02)"/><ellipse cx="255.62" cy="1060.26" rx="10.90" ry="6.96" fill="#000a6a"/></g>
<g opacity="1.0"><ellipse cx="138.70" cy="1086.35" rx="10.80" ry="6.89" fill="#000a6e"/></g>
<g opacity="0.9"><ellipse cx="444.10" cy="1090.75" rx="11.10" ry="7.10" fill="#030c88"/></g>
<g opacity="0.88"><ellipse cx="210.26" cy="1099.13" rx="10.90" ry="6.96" fill="#000262"/></g>
<g opacity="1.0"><ellipse cx="398.74" cy="1107.66" rx="11.10" ry="7.10" fill="#000e8c"/></g>
<g opacity="1.0"><path d="M270.82,1102.87 L270.82,1111.87 A11.00,7.03 0 0 0 292.82,1111.87 L292.82,1102.87 Z" fill="url(#g02)"/><ellipse cx="281.82" cy="1102.87" rx="11.00" ry="7.03" fill="#000a6a"/></g>
<g opacity="1.0"><ellipse cx="164.90" cy="1116.00" rx="10.90" ry="6.96" fill="#000a6e"/></g>
<g opacity="0.88"><ellipse cx="236.46" cy="1128.76" rx="11.00" ry="7.03" fill="#000262"/></g>
<g opacity="1.0"><ellipse cx="308.02" cy="1141.48" rx="11.10" ry="7.10" fill="#000a6a"/></g>
<g opacity="1.0"><path d="M180.10,1142.65 L180.10,1145.65 A11.00,7.03 0 0 0 202.10,1145.65 L202.10,1142.65 Z" fill="url(#g00)"/><ellipse cx="191.10" cy="1142.65" rx="11.00" ry="7.03" fill="#000a6e"/></g>
<g opacity="0.88"><ellipse cx="262.66" cy="1158.39" rx="11.10" ry="7.10" fill="#000262"/></g>
<g opacity="1.0"><ellipse cx="217.30" cy="1175.30" rx="11.10" ry="7.10" fill="#000a6e"/></g>
<line x1="226" y1="1203.4" x2="1054" y2="902.5" stroke="#111" stroke-width="1.5"/>
<line x1="221.3" y1="1190.5" x2="230.8" y2="1216.6" stroke="#111" stroke-width="1.4"/>
<line x1="270.4" y1="1172.7" x2="279.9" y2="1198.8" stroke="#111" stroke-width="1.4"/>
<line x1="320.2" y1="1154.6" x2="329.7" y2="1180.7" stroke="#111" stroke-width="1.4"/>
<line x1="408.8" y1="1122.7" x2="413.1" y2="1135.4" stroke="#111" stroke-width="1.4"/>
<line x1="453.1" y1="1106.6" x2="457.4" y2="1119.3" stroke="#111" stroke-width="1.4"/>
<line x1="500.1" y1="1089.5" x2="504.4" y2="1102.2" stroke="#111" stroke-width="1.4"/>
<line x1="591.0" y1="1056.5" x2="595.3" y2="1069.2" stroke="#111" stroke-width="1.4"/>
<line x1="638.2" y1="1039.3" x2="642.5" y2="1052.0" stroke="#111" stroke-width="1.4"/>
<line x1="684.7" y1="1022.4" x2="689.0" y2="1035.1" stroke="#111" stroke-width="1.4"/>
<line x1="780.6" y1="987.6" x2="784.9" y2="1000.3" stroke="#111" stroke-width="1.4"/>
<line x1="822.1" y1="972.5" x2="826.4" y2="985.2" stroke="#111" stroke-width="1.4"/>
<line x1="863.6" y1="957.4" x2="867.9" y2="970.1" stroke="#111" stroke-width="1.4"/>
<line x1="954.7" y1="924.3" x2="959.0" y2="937.0" stroke="#111" stroke-width="1.4"/>
<line x1="999.4" y1="908.1" x2="1003.7" y2="920.8" stroke="#111" stroke-width="1.4"/>
<line x1="1049.6" y1="889.8" x2="1053.9" y2="902.5" stroke="#111" stroke-width="1.4"/>
<text x="-1.07" y="1014.60" font-size="21.57" textLength="39.43" lengthAdjust="spacingAndGlyphs">C18</text>
<text x="17.81" y="1039.50" font-size="22.14" textLength="39.85" lengthAdjust="spacingAndGlyphs">C16</text>
<text x="47.71" y="1069.40" font-size="23.00" textLength="40.05" lengthAdjust="spacingAndGlyphs">C14</text>
<text x="70.73" y="1098.70" font-size="23.00" textLength="39.13" lengthAdjust="spacingAndGlyphs">C12</text>
<text x="95.67" y="1127.60" font-size="22.29" textLength="41.44" lengthAdjust="spacingAndGlyphs">C10</text>
<text x="127.26" y="1156.30" font-size="22.86" textLength="31.74" lengthAdjust="spacingAndGlyphs">C8</text>
<text x="155.66" y="1190.40" font-size="21.57" textLength="31.74" lengthAdjust="spacingAndGlyphs">C6</text>
<text x="227.18" y="1244.50" font-size="22.71" textLength="130.98" lengthAdjust="spacingAndGlyphs">&#39;TesA_L109P</text>
<text x="282.33" y="1221.70" font-size="23.04" textLength="56.26" lengthAdjust="spacingAndGlyphs">&#39;TesA</text>
<text x="328.07" y="1203.80" font-size="23.04" textLength="91.20" lengthAdjust="spacingAndGlyphs">&#39;TesA_4x</text>
<text x="-0.92" y="678.50" font-size="40.24" textLength="26.39" lengthAdjust="spacingAndGlyphs" font-weight="bold" stroke="#000" stroke-width="0.8">b</text>
</svg>
</body></html>
